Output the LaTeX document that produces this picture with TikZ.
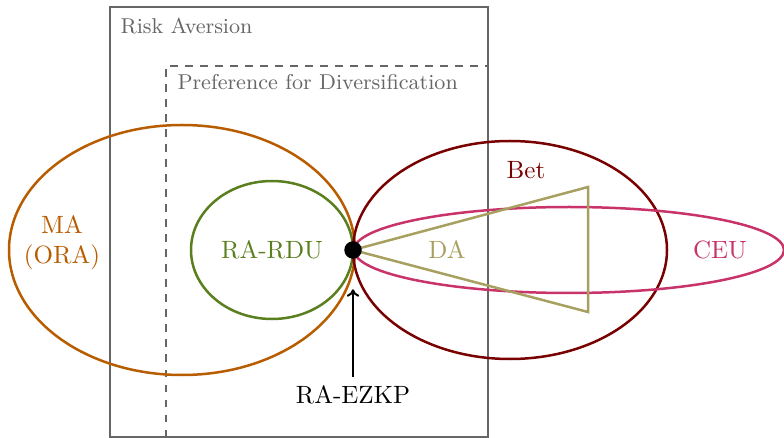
\documentclass[tikz,border=0pt]{standalone}
\usepackage{xcolor}
\usepackage{tikz}
\usetikzlibrary{arrows.meta,positioning,calc}
\definecolor{ragrey}{HTML}{666666}
\definecolor{maorange}{HTML}{B85C00}
\definecolor{rdugreen}{HTML}{5A7F1E}
\definecolor{betred}{HTML}{780000}
\definecolor{ceupink}{HTML}{C8336A}
\definecolor{dakhaki}{HTML}{A8A060}

\begin{document}
\begin{tikzpicture}[x=0.4pt,y=-0.4pt,
      region/.style={line width=1pt},
      frame/.style={draw=ragrey,line width=0.6pt},
      lab/.style={inner sep=0pt,font=\fontsize{8.6}{10}\selectfont,color=ragrey},
      arr/.style={-{To[length=3pt,width=5pt]},line width=0.8pt,black}]
    \useasboundingbox (0,0) rectangle (784,438);
    % frames
    \draw[frame] (110,437) rectangle (488,7);
    \draw[frame,dashed] (166,437) -- (166,66) -- (488,66);
    \node[lab,anchor=west] (ra) at (120,26) {Risk Aversion};
    \node[lab,anchor=west] (pd) at (177,82) {Preference for Diversification};
    % regions
    \draw[region,maorange] (182,250) ellipse [x radius=173,y radius=125];
    \draw[region,rdugreen] (272,250) ellipse [x radius=81,y radius=69];
    \draw[region,betred] (510,250) ellipse [x radius=157,y radius=109];
    \draw[region,ceupink] (569,250) ellipse [x radius=215,y radius=43];
    \draw[region,dakhaki] (353,250) -- (588,187) -- (588,312) -- cycle;
    % labels
    \node[color=maorange,align=center] (ma) at (62,243) {MA\\(ORA)};
    \node[color=rdugreen] (rdu) at (272,250) {RA-RDU};
    \node[color=dakhaki] (da) at (447,250) {DA};
    \node[color=betred] (bet) at (526,170) {Bet};
    \node[color=ceupink] (ceu) at (720,250) {CEU};
    \node[circle,fill=black,inner sep=0pt,minimum size=7pt] (dot) at (353,250) {};
    \node (ezkp) at (353,395) {RA-EZKP};
    \draw[arr,shorten >=12pt] (ezkp) -- (dot);
  \end{tikzpicture}
\end{document}
